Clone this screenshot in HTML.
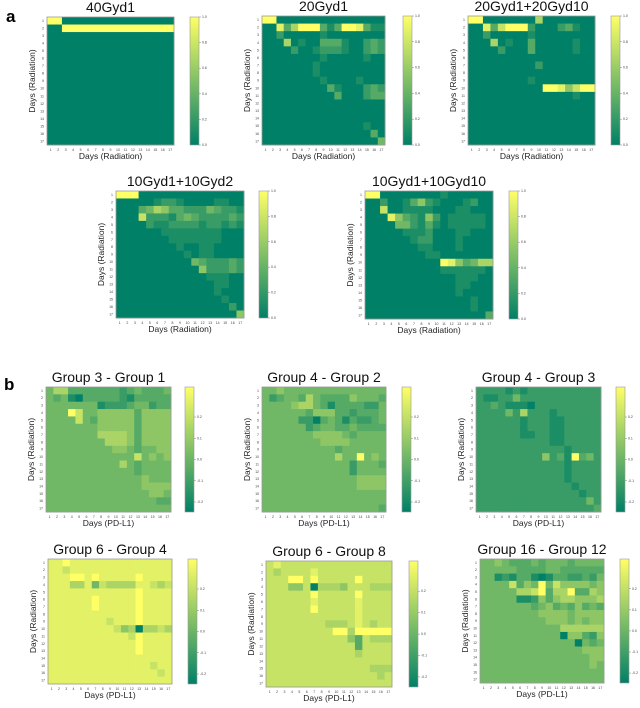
<!DOCTYPE html>
<html><head><meta charset="utf-8">
<style>
html,body{margin:0;padding:0;background:#fff;}
body{width:640px;height:703px;overflow:hidden;font-family:"Liberation Sans",sans-serif;}
svg text{font-family:"Liberation Sans",sans-serif;}
</style></head>
<body>
<svg id="fig" width="640" height="703" xmlns="http://www.w3.org/2000/svg">
<text x="6" y="22" font-size="17" font-weight="bold">a</text>
<text x="4" y="390" font-size="17" font-weight="bold">b</text>
</svg>
<script>
// Data: each row is 17 cells, digit = colormap level 0..9
const a1 = ["99000000000000000","00999999999999999","00000000000000000","00000000000000000","00000000000000000","00000000000000000","00000000000000000","00000000000000000","00000000000000000","00000000000000000","00000000000000000","00000000000000000","00000000000000000","00000000000000000","00000000000000000","00000000000000000","00000000000000000"];
const a2 = ["99000000000000000","00836999313998311","00200000100000000","00060100333100232","00002001222100232","00000000100000100","00000001000000000","00000001000000000","00000000100001000","00000000031000232","00000000003000233","00000000000000000","00000000000000000","00000000000000000","00000000000000100","00000000000000030","00000000000000004"];
const a3 = ["99000000060000000","00837999200023100","00200000100000000","00060100300000100","00002000300000100","00000000000000000","00000000020000000","00000000000000000","00000000100000000","00000000009985799","00000000000000100","00000000000000000","00000000000000000","00000000000000000","00000000000000000","00000000000000000","00000000000000000"];
const a4 = ["99900000000000000","00000122100001100","00034653322243221","00072221343222232","00002112222122121","00000011111111000","00000001111111000","00000000100110000","00000000010110000","00000000004322232","00000000000522232","00000000000011100","00000000000001100","00000000000001000","00000000000000100","00000000000000020","00000000000000005"];
const a5 = ["99000000001000000","00200135210001200","00700111100011000","00085321520111110","00004421310111110","00000111200011000","00000012200010000","00000001100010000","00000000110000000","00000000009853466","00000000001111110","00000000000011100","00000000000011000","00000000000010000","00000000000000100","00000000000000100","00000000000000003"];
const b1 = ["46633333332343334","43410333332133333","44444441222344233","44497445555535555","44447435555535555","44444445555535555","44444446666535555","44444444666535555","44444444455434455","44444444444474545","44444444446434444","44444444444434444","44444444444445444","44444444444445555","44444444444444554","44444444444444433","44444444444444444"];
const b2 = ["44544444444444444","42344364333354443","44445664313333224","44444435553323334","44444220343132234","44444423443343333","44444445555434444","44444444555544444","44444444443444444","44444444446449454","44444444444424443","44444444444424444","44444444444445555","44444444444445555","44444444444444444","44444444444444444","44444444444444443"];
const b3 = ["22221212222222222","21122422222222222","22321110222222222","22224262221222222","22222212221122222","22222212221122222","22222211221122222","22222222221122222","22222222222212222","22222222252319342","22222222222212222","22222222222212222","22222222222212222","22222222222221222","22222222222222122","22222222222222242","22222222222222223"];
const b4 = ["88988888888888888","88788888888888888","88899898888898888","88866847666688767","88888888888898888","88888898888898888","88888898888898888","88888888888898888","88888888788898888","88888888875606676","88888888888798888","88888888888898888","88888888888898888","88888888888888888","88888888888888788","88888888888888878","88888888888888888"];
const b5 = ["78777777777777777","76777787777777777","77799797777797777","77755706665777666","77777797777797777","77777787777787777","77777797777787777","77777777777787777","77777777666787677","77777777799699999","77777777777537666","77777777777737777","77777777777767777","77777777777777777","77777777777777666","77777777777777767","77777777777777777"];
const b6 = ["44543334344434444","44444333344333333","44121331013322324","44447354947555545","44444667936693365","44444112535665556","44444443453435343","44444444555545555","44444444455545455","44444444444666666","44444444444055325","44444444444440434","44444444444444555","44444444444444455","44444444444444454","44444444444444444","44444444444444444"];
const dayTicks = ["1","2","3","4","5","6","7","8","9","10","11","12","13","14","15","16","17"];
const titles = ["40Gyd1","20Gyd1","20Gyd1+20Gyd10","10Gyd1+10Gyd2","10Gyd1+10Gyd10","Group 3 - Group 1","Group 4 - Group 2","Group 4 - Group 3","Group 6 - Group 4","Group 6 - Group 8","Group 16 - Group 12"];
const cbTicksA = ["0.0","0.2","0.4","0.6","0.8","1.0"];
const cbTicksB = ["-0.2","-0.1","0.0","0.1","0.2",""];

const matrices=[a1,a2,a3,a4,a5,b1,b2,b3,b4,b5,b6];
// layout: x,y,w,h,colorbar x, xlabel
const layout=[
 [47,17,127,128,190,"Days (Radiation)"],
 [262,16,123,129,403,"Days (Radiation)"],
 [468,16,127,129,611,"Days (Radiation)"],
 [116,191,128,127,259,"Days (Radiation)"],
 [365,191,128,128,509,"Days (Radiation)"],
 [46,387,125,125,185,"Days (PD-L1)"],
 [262,387,124,125,402,"Days (PD-L1)"],
 [476,387,125,125,616,"Days (PD-L1)"],
 [48,559,124,125,188,"Days (PD-L1)"],
 [266,561,126,126,409,"Days (PD-L1)"],
 [480,559,124,124,620,"Days (PD-L1)"]
];
const NS="http://www.w3.org/2000/svg";
const svg=document.getElementById('fig');
function col(v){const r=Math.round(255*v),g=Math.round(255*(0.5+0.5*v));return `rgb(${r},${g},102)`;}
function el(t,a,p){const e=document.createElementNS(NS,t);for(const k in a)e.setAttribute(k,a[k]);(p||svg).appendChild(e);return e;}
const defs=el('defs',{});
const lg=el('linearGradient',{id:'cmap',x1:0,y1:1,x2:0,y2:0},defs);
el('stop',{offset:'0',"stop-color":col(0)},lg);el('stop',{offset:'1',"stop-color":col(1)},lg);

matrices.forEach((m,pi)=>{
  const [x,y,w,h,cbx,xl]=layout[pi];
  const n=dayTicks.length;
  const xs=j=>x+j*w/n, ys=i=>y+i*h/n;
  const g=el('g',{});
  
  
  m.forEach((row,i)=>{
    for(let j=0;j<n;j++){
      const v=parseInt(row[j])/9;
      const r=el('rect',{x:xs(j),y:ys(i),width:w/n+0.4,height:h/n+0.4,fill:col(v)},g);
      
      
    }
  });
  el('rect',{x:x,y:y,width:w,height:h,fill:'none',stroke:'#999','stroke-width':0.8},g);
  dayTicks.forEach((t,k)=>{
    const tx=el('text',{x:xs(k+0.5),y:y+h+6,"font-size":3.5,"text-anchor":"middle",fill:'#444'},g);tx.textContent=t;
    const ty=el('text',{x:x-3,y:ys(k+0.5)+1.2,"font-size":3.5,"text-anchor":"end",fill:'#444'},g);ty.textContent=t;
  });
  const tt=el('text',{x:x+w/2,y:y-5,"font-size":14,"text-anchor":"middle",fill:'#111'});
  tt.textContent=titles[pi];
  
  
  const xlab=el('text',{x:x+w/2,y:y+h+14,"font-size":8.5,"text-anchor":"middle",fill:'#222'});
  xlab.textContent=xl;
  
  
  const ylab=el('text',{x:0,y:0,"font-size":8.5,"text-anchor":"middle",fill:'#222',transform:`translate(${x-12},${y+h/2}) rotate(-90)`});
  ylab.textContent="Days (Radiation)";
  
  
  const cb=el('rect',{x:cbx,y:y,width:9,height:h,fill:'url(#cmap)',stroke:'#999','stroke-width':0.6});
  
  
  const ticks=pi<5?cbTicksA:cbTicksB;
  ticks.forEach((t,k)=>{
    if(!t)return;
    const ty=y+h-k*h/(ticks.length-1)*(pi<5?1:0.85)-(pi<5?0:h*0.08);
    el('line',{x1:cbx+9,x2:cbx+11,y1:ty,y2:ty,stroke:'#666','stroke-width':0.4});
    const ct=el('text',{x:cbx+12,y:ty+1,"font-size":3.5,fill:'#444'});ct.textContent=t;
  });
});
</script>
</body></html>
